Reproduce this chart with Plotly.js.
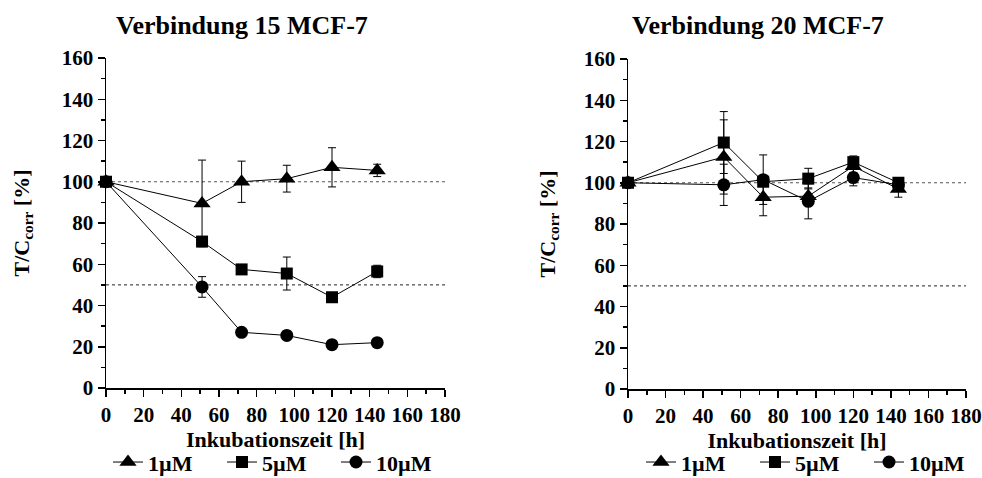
<!DOCTYPE html>
<html>
<head>
<meta charset="utf-8">
<script src="https://cdn.plot.ly/plotly-3.0.1.min.js"></script>
<style>html,body{margin:0;padding:0;background:#fff;}#chart{width:982px;height:478px;}</style>
</head>
<body>
<div id="chart"></div>
<script>
// ---- data ----
const time = [0, 51, 72, 96, 120, 144];
const seriesNames = ["1µM", "5µM", "10µM"];

// Verbindung 15 MCF-7
const v15_1 = [100, 89.5, 100, 101.5, 107, 105.5];
const e15_1 = [0, 21, 10, 6.5, 9.5, 3];
const v15_5 = [100, 71, 57.5, 55.5, 44, 56.5];
const e15_5 = [0, 2, 1.5, 8, 1.5, 3];
const v15_10 = [100, 49, 27, 25.5, 21, 22];
const e15_10 = [0, 5, 1, 2, 1, 1];

// Verbindung 20 MCF-7
const v20_1 = [100, 112.5, 93, 93.5, 108, 97];
const e20_1 = [0, 18, 9, 4, 3, 4];
const v20_5 = [100, 119.5, 100.5, 102, 110, 100];
const e20_5 = [0, 15, 2, 5, 3, 1.5];
const v20_10 = [100, 99, 101.5, 91, 102.5, 99];
const e20_10 = [0, 10, 12, 8.5, 4, 2];

const titles = ["Verbindung 15 MCF-7", "Verbindung 20 MCF-7"];
const xTitle = "Inkubationszeit [h]";
const yTitle = "T/C<sub>corr</sub> [%]";
const refLines = [100, 50];

// ---- styling ----
const FONT = "Liberation Serif";
const symbols = ["triangle-up", "square", "circle"];
const sizes = [15, 12, 13];

function mk(x, y, e, i, xa, ya, leg, show) {
  return {
    type: "scatter", mode: "lines+markers", x: x, y: y,
    name: seriesNames[i], xaxis: xa, yaxis: ya, legend: leg, showlegend: show,
    cliponaxis: false,
    line: {color: "#000", width: 1},
    marker: {symbol: symbols[i], size: sizes[i], color: "#000"},
    error_y: {type: "data", array: e, visible: true, color: "#000", thickness: 1, width: 4}
  };
}

const data = [
  mk(time, v15_1, e15_1, 0, "x", "y", "legend", true),
  mk(time, v15_5, e15_5, 1, "x", "y", "legend", true),
  mk(time, v15_10, e15_10, 2, "x", "y", "legend", true),
  mk(time, v20_1, e20_1, 0, "x2", "y2", "legend2", true),
  mk(time, v20_5, e20_5, 1, "x2", "y2", "legend2", true),
  mk(time, v20_10, e20_10, 2, "x2", "y2", "legend2", true)
];

function xax(domain, anchor) {
  return {
    domain: domain, anchor: anchor, range: [0, 180], dtick: 20, tick0: 0,
    showline: true, linecolor: "#000", linewidth: 1.5, zeroline: false, showgrid: false,
    ticks: "outside", ticklen: 7, tickwidth: 1.5, tickcolor: "#000", tickangle: 0,
    minor: {dtick: 10, ticks: "outside", ticklen: 4, tickwidth: 1.5, tickcolor: "#000", showgrid: false},
    tickfont: {family: FONT, size: 21, color: "#000", weight: "bold"},
    title: {text: xTitle, standoff: 4, font: {family: FONT, size: 22, color: "#000", weight: "bold"}},
    automargin: false, fixedrange: true
  };
}
function yax(domain, anchor, standoff) {
  return {
    domain: domain, anchor: anchor, range: [0, 160], dtick: 20, tick0: 0,
    showline: true, linecolor: "#000", linewidth: 1.5, zeroline: false, showgrid: false,
    ticks: "outside", ticklen: 7, tickwidth: 1.5, tickcolor: "#000",
    minor: {dtick: 10, ticks: "outside", ticklen: 4, tickwidth: 1.5, tickcolor: "#000", showgrid: false},
    tickfont: {family: FONT, size: 21, color: "#000", weight: "bold"},
    title: {text: yTitle, standoff: standoff, font: {family: FONT, size: 22, color: "#000", weight: "bold"}},
    automargin: false, fixedrange: true
  };
}

const shapes = [];
[["x", "y"], ["x2", "y2"]].forEach(function (ax) {
  refLines.forEach(function (v) {
    shapes.push({type: "line", xref: ax[0], yref: ax[1], x0: 0, x1: 180, y0: v, y1: v,
      line: {color: v === 100 ? "#555" : "#222", width: 1, dash: "dot"}, layer: "below"});
  });
});

const legendBase = {
  orientation: "h", yanchor: "middle", y: 0.033, xanchor: "left",
  font: {family: FONT, size: 22, color: "#000", weight: "bold"},
  entrywidth: 69, entrywidthmode: "pixels", bgcolor: "rgba(0,0,0,0)", itemclick: false
};

const layout = {
  width: 982, height: 478,
  margin: {l: 0, r: 0, t: 0, b: 0, pad: 0, autoexpand: false},
  paper_bgcolor: "#fff", plot_bgcolor: "#fff",
  showlegend: true,
  xaxis: xax([106 / 982, 445 / 982], "y"),
  yaxis: yax([1 - 388 / 478, 1 - 58 / 478], "x", 26),
  xaxis2: xax([628 / 982, 966 / 982], "y2"),
  yaxis2: yax([1 - 389 / 478, 1 - 59 / 478], "x2", 22),
  shapes: shapes,
  legend: Object.assign({}, legendBase, {x: 108 / 982}),
  legend2: Object.assign({}, legendBase, {x: 641 / 982}),
  annotations: [
    {text: titles[0], xref: "paper", yref: "paper", x: 242 / 982, y: 1 - 25 / 478,
     xanchor: "center", yanchor: "middle", showarrow: false,
     font: {family: FONT, size: 26, color: "#000", weight: "bold"}},
    {text: titles[1], xref: "paper", yref: "paper", x: 758 / 982, y: 1 - 25 / 478,
     xanchor: "center", yanchor: "middle", showarrow: false,
     font: {family: FONT, size: 26, color: "#000", weight: "bold"}}
  ]
};

Plotly.newPlot("chart", data, layout, {staticPlot: true, displayModeBar: false});
</script>
</body>
</html>
